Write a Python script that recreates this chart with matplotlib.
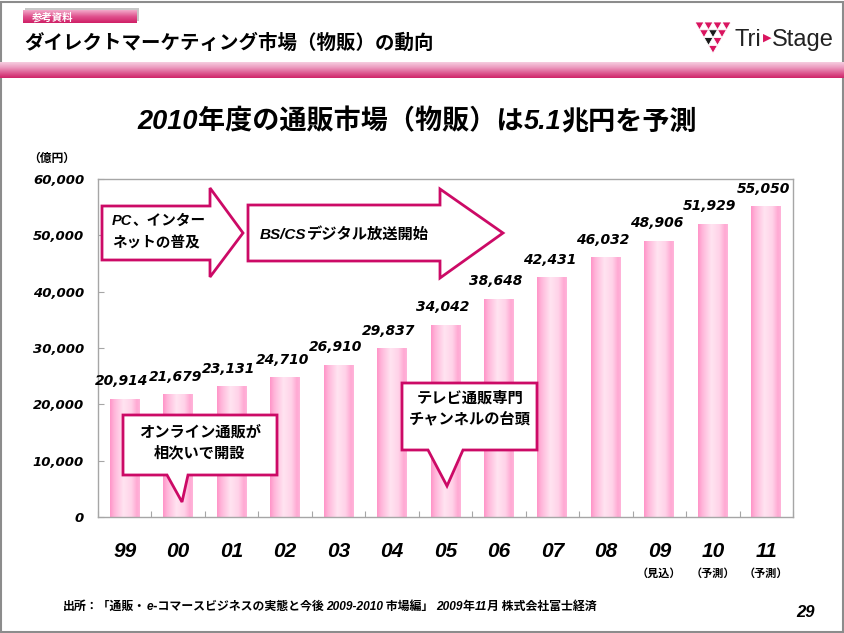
import numpy as np
import matplotlib
matplotlib.use("Agg")
import matplotlib.pyplot as plt
from matplotlib.colors import LinearSegmentedColormap
from matplotlib.patches import Polygon, Rectangle

# ---------------- data ----------------
years = ['99', '00', '01', '02', '03', '04', '05', '06', '07', '08', '09', '10', '11']
values = [20914, 21679, 23131, 24710, 26910, 29837, 34042, 38648, 42431, 46032, 48906, 51929, 55050]
notes = ['', '', '', '', '', '', '', '', '', '', '（見込）', '（予測）', '（予測）']
yticks = [0, 10000, 20000, 30000, 40000, 50000, 60000]

JP = 'Noto Sans CJK JP'
NUM = 'Liberation Sans'
PINK = '#cc0a66'

W, H = 845, 633
fig = plt.figure(figsize=(W / 100, H / 100), dpi=100)
fig.patch.set_facecolor('white')

# ---------------- main chart ----------------
ax = fig.add_axes([98 / W, 1 - 517 / H, (793 - 98) / W, (517 - 179) / H])
x = np.arange(len(years))
bw = 0.56
cmap = LinearSegmentedColormap.from_list(
    'barpink', [(0.0, '#ff94c8'), (0.15, '#ffb6da'), (0.45, '#ffe4f1'),
                (0.72, '#ffd2e8'), (0.9, '#ffa9d3'), (1.0, '#ffb4da')])
grad = np.linspace(0, 1, 256).reshape(1, -1)
for xi, v in zip(x, values):
    ax.imshow(grad, cmap=cmap, extent=[xi - bw / 2, xi + bw / 2, 0, v],
              aspect='auto', zorder=2, interpolation='bilinear')
    ax.annotate(f'{v:,}', xy=(xi, v), xytext=(-3, 11), textcoords='offset pixels',
                ha='center', va='bottom', fontsize=10, fontweight='bold',
                fontstyle='italic', family='DejaVu Sans', color='black')

ax.set_xlim(-0.5, len(years) - 0.5)
ax.set_ylim(0, 60000)
for s in ax.spines.values():
    s.set_color('#a6a6a6')
    s.set_linewidth(1.0)

ax.set_yticks(yticks)
ax.set_yticklabels([f'{t:,}' for t in yticks], fontsize=9.5, fontweight='bold',
                   fontstyle='italic', family='DejaVu Sans')
ax.tick_params(axis='y', direction='in', length=4, color='#a6a6a6', pad=10)

ax.set_xticks(np.arange(len(years) + 1) - 0.5)
ax.set_xticklabels([''] * (len(years) + 1))
ax.tick_params(axis='x', which='major', direction='in', length=4, color='#a6a6a6')
ax.set_xticks(x, minor=True)
ax.set_xticklabels(years, minor=True, fontsize=15, fontweight='bold',
                   fontstyle='italic', family=NUM)
ax.tick_params(axis='x', which='minor', length=0, pad=18)
for xi, n in zip(x, notes):
    if n:
        ax.text(xi, -0.168, n, transform=ax.get_xaxis_transform(), ha='center',
                va='center', fontsize=8, family=JP, fontweight='bold')

# ---------------- overlay (pixel coordinates) ----------------
ov = fig.add_axes([0, 0, 1, 1], zorder=5)
ov.set_xlim(0, W)
ov.set_ylim(H, 0)
ov.axis('off')
ov.patch.set_alpha(0)

renderer = fig.canvas.get_renderer()


def runs(xp, yp, parts, size, ha='left', color='black', weight='bold'):
    """draw consecutive text runs on baseline yp"""
    objs = []
    cur = xp
    for txt, ital in parts:
        fam = [NUM, JP] if ital else [JP]
        t = ov.text(cur, yp, txt, fontsize=size, fontweight=weight,
                    fontstyle='italic' if ital else 'normal', family=fam,
                    va='baseline', ha='left', color=color)
        wdt = t.get_window_extent(renderer).width
        cur += wdt
        objs.append(t)
    total = cur - xp
    if ha == 'center':
        shift = -total / 2
        for t in objs:
            px, py = t.get_position()
            t.set_position((px + shift, py))
    return total


# border of page
ov.add_patch(Rectangle((1.5, 1.5), W - 3, H - 3, fill=False, ec='#8c8c8c', lw=1.5))

# header tag 参考資料
ov.add_patch(Rectangle((25, 8), 114, 13, fc='#c8c8c8', ec='none'))
tag = LinearSegmentedColormap.from_list('tag', ['#f3a9c9', '#e0528e', '#cf1f66'])
ov.imshow(np.linspace(0, 1, 64).reshape(-1, 1), cmap=tag, extent=[23, 137, 23, 10],
          aspect='auto', zorder=1)
ov.text(32, 17, '参考資料', fontsize=7.5, fontweight='bold', family=JP, color='white',
        va='center', ha='left')

# title
ov.text(24, 49, 'ダイレクトマーケティング市場（物販）の動向', fontsize=14, fontweight='bold',
        family=JP, va='baseline', ha='left', color='black')

# pink band
band = LinearSegmentedColormap.from_list('band', ['#f6cde0', '#ec9cc0', '#de5c93', '#cf2468'])
ov.imshow(np.linspace(0, 1, 64).reshape(-1, 1), cmap=band, extent=[0, W, 78, 62],
          aspect='auto', zorder=1)

# logo
tw, th = 9.0, 7.8
lx0, ly0 = 695, 22
colors = [['p', 'p', 'p', 'p'], ['p', 'k', 'p'], ['k', 'p'], ['p']]
for r, row in enumerate(colors):
    for c, col in enumerate(row):
        x0 = lx0 + r * tw / 2 + c * tw
        y0 = ly0 + r * th
        ov.add_patch(Polygon([(x0, y0), (x0 + tw, y0), (x0 + tw / 2, y0 + th)],
                             closed=True, fc='#d9145f' if col == 'p' else '#1a1a1a',
                             ec='white', lw=0.6))
cur = 735
t1 = ov.text(cur, 46, 'Tri', fontsize=17, family='Liberation Sans', va='baseline', color='#222222')
cur += t1.get_window_extent(renderer).width + 1
t2 = ov.text(cur, 41, '▶', fontsize=8, family='DejaVu Sans', va='baseline', color='#d9145f')
cur += t2.get_window_extent(renderer).width + 1
ov.text(cur, 46, 'Stage', fontsize=17, family='Liberation Sans', va='baseline', color='#222222')

# subtitle
runs(417, 129, [('2010', True), ('年度の通販市場（物販）は', False), ('5.1', True),
                ('兆円を予測', False)], 19.5, ha='center')

# unit
ov.text(52, 158, '（億円）', fontsize=8.5, fontweight='bold', family=JP, ha='center', va='center')

# arrows
arrow1 = [(102, 206), (210, 206), (210, 188), (243, 233), (210, 277), (210, 260), (102, 260)]
arrow2 = [(248, 205), (440, 205), (440, 189), (503, 233), (440, 278), (440, 261), (248, 261)]
for pts in (arrow1, arrow2):
    ov.add_patch(Polygon(pts, closed=True, fc='white', ec=PINK, lw=2, joinstyle='miter'))
runs(112, 225, [('PC', True), ('、インター', False)], 10.5)
runs(112, 248, [('ネットの普及', False)], 10.5)
runs(260, 239, [('BS/CS', True), ('デジタル放送開始', False)], 11)

# callouts
call1 = [(123, 415), (277, 415), (277, 475), (188, 475), (182, 502), (167, 475), (123, 475)]
call2 = [(402, 383), (537, 383), (537, 450), (463, 450), (447, 486), (428, 450), (402, 450)]
for pts in (call1, call2):
    ov.add_patch(Polygon(pts, closed=True, fc='white', ec=PINK, lw=2, joinstyle='miter'))
for yy, s in ((432, 'オンライン通販が'), (452, '相次いで開設')):
    ov.text(200, yy, s, fontsize=11, fontweight='bold', family=JP, ha='center', va='center')
for yy, s in ((398, 'テレビ通販専門'), (418, 'チャンネルの台頭')):
    ov.text(470, yy, s, fontsize=11, fontweight='bold', family=JP, ha='center', va='center')

# footer
runs(63, 610, [('出所：「通販・', False), ('e', True), ('-コマースビジネスの実態と今後 ', False),
               ('2009-2010', True), (' 市場編」 ', False), ('2009', True), ('年', False),
               ('11', True), ('月 株式会社富士経済', False)], 8.6)
ov.text(806, 617, '29', fontsize=12, fontweight='bold', fontstyle='italic', family=NUM,
        ha='center', va='baseline')

fig.savefig('out.png', dpi=100, facecolor='white')
